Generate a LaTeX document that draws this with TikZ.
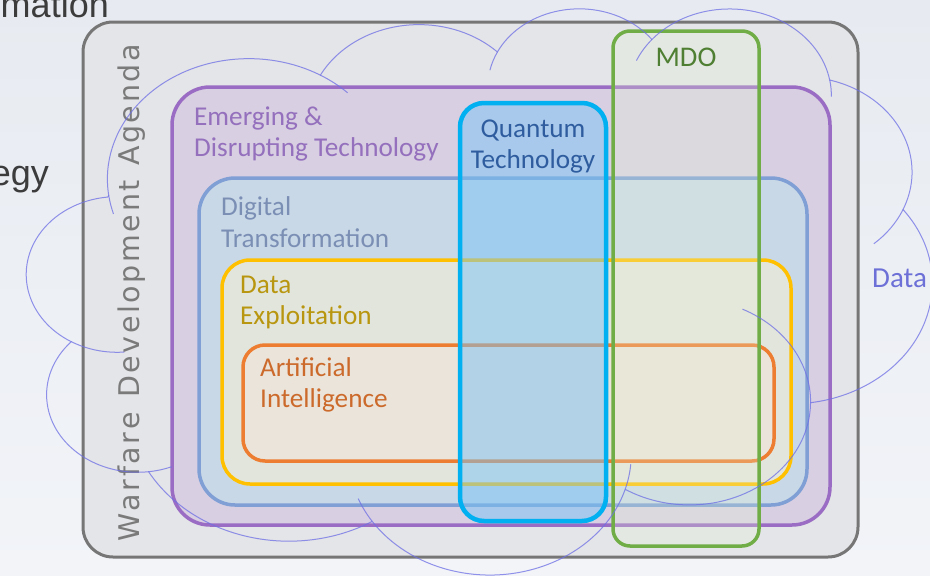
\documentclass[tikz,border=0pt]{standalone}
\usepackage{fontspec}
\setmainfont{Carlito}
\newfontfamily\arialfont{Liberation Sans}
\newfontfamily\wdafont{DejaVu Sans}
\definecolor{bgTop}{HTML}{E7EBF1}
\definecolor{bgBot}{HTML}{F2F4F8}
\definecolor{cGray}{HTML}{767676}
\definecolor{fGray}{HTML}{E4E5E8}
\definecolor{cPurple}{HTML}{9A6CC3}
\definecolor{fPurple}{HTML}{D8CFE2}
\definecolor{cBlue}{HTML}{7F9FD5}
\definecolor{fBlue}{HTML}{C8D8E7}
\definecolor{cYellow}{HTML}{FFC000}
\definecolor{fYellow}{HTML}{E2E5DC}
\definecolor{cOrange}{HTML}{ED7D31}
\definecolor{fOrange}{HTML}{EBE4DA}
\definecolor{cCyan}{HTML}{00B0F0}
\definecolor{fCyan}{HTML}{7AC4F4}
\definecolor{cGreen}{HTML}{70AD47}
\definecolor{fGreen}{HTML}{E6F4D6}
\definecolor{cCloud}{HTML}{6E6FE4}
\definecolor{tEm}{HTML}{9470BD}
\definecolor{tDig}{HTML}{7B8FB5}
\definecolor{tDat}{HTML}{B8960F}
\definecolor{tAI}{HTML}{CC6A2C}
\definecolor{tQt}{HTML}{2E5C9E}
\definecolor{tMdo}{HTML}{4F7F32}
\definecolor{tData}{HTML}{6D70D6}
\definecolor{tWda}{HTML}{7A7A7A}
\definecolor{tDark}{HTML}{3C3C3C}
\newcommand\lsp{\kern2.6pt\relax}
\begin{document}
\begin{tikzpicture}[x=1pt,y=-1pt,
  boxbase/.style={draw, inner sep=0pt, outer sep=0pt},
  lbl/.style={inner sep=0pt, font=\fontsize{27.2}{32}\selectfont},
  cloudline/.style={draw=cCloud, line width=1pt, draw opacity=0.75}]
\useasboundingbox (0,0) rectangle (930,576);
\shade[top color=bgTop, bottom color=bgBot] (0,0) rectangle (930,576);

% boxes
\node[boxbase, draw=cGray, fill=fGray, line width=3pt, rounded corners=30pt,
  minimum width=775pt, minimum height=535pt] (wdabox) at (470.5,289.5) {};
\node[boxbase, draw=cPurple, fill=fPurple, line width=3.5pt, rounded corners=38pt,
  minimum width=658pt, minimum height=438pt] (edtbox) at (501,306) {};
\node[boxbase, draw=cBlue, fill=fBlue, line width=3.5pt, rounded corners=36pt,
  minimum width=608pt, minimum height=327pt] (dtbox) at (503,341.5) {};
\node[boxbase, draw=cYellow, fill=fYellow, line width=3.5pt, rounded corners=28pt,
  minimum width=569pt, minimum height=224pt] (debox) at (506.5,372) {};
\node[boxbase, draw=cOrange, fill=fOrange, line width=3.5pt, rounded corners=22pt,
  minimum width=531pt, minimum height=116pt] (aibox) at (508.5,403) {};
\node[boxbase, draw=cCyan, fill=fCyan, fill opacity=0.5, draw opacity=1, line width=4.5pt, rounded corners=24pt,
  minimum width=146pt, minimum height=418pt] (qtbox) at (533,312) {};
\node[boxbase, draw=cGreen, fill=fGreen, fill opacity=0.25, draw opacity=1, line width=3.5pt, rounded corners=17pt,
  minimum width=146pt, minimum height=515pt] (mdobox) at (686,288.5) {};

% labels
\node[lbl, text=tEm, anchor=base west] (em1) at (194,125) {Emerging \&};
\node[lbl, text=tEm, anchor=base west] (em2) at (194,156) {Disrupting Technology};
\node[lbl, text=tDig, anchor=base west] (dt1) at (221,215) {Digital};
\node[lbl, text=tDig, anchor=base west] (dt2) at (221,247) {Transformation};
\node[lbl, text=tDat, anchor=base west] (de1) at (240,293) {Data};
\node[lbl, text=tDat, anchor=base west] (de2) at (240,324) {Exploitation};
\node[lbl, text=tAI, anchor=base west] (ai1) at (260,376) {Artificial};
\node[lbl, text=tAI, anchor=base west] (ai2) at (260,407) {Intelligence};
\node[lbl, text=tQt, anchor=base] (qt1) at (533,137) {Quantum};
\node[lbl, text=tQt, anchor=base] (qt2) at (533,168) {Technology};
\node[lbl, text=tMdo, anchor=base, font=\fontsize{28.5}{32}\selectfont] (mdo) at (686,66) {MDO};
\node[lbl, text=tData, anchor=base west, font=\fontsize{29}{34}\selectfont] (data) at (872,287) {Data};
\node[inner sep=0pt, text=tDark, anchor=base east, font=\arialfont\fontsize{36}{40}\selectfont] (mation) at (109,17) {mation};
\node[inner sep=0pt, text=tDark, anchor=base east, font=\arialfont\fontsize{36}{40}\selectfont] (egy) at (49,185) {egy};
\node[inner sep=0pt, text=tWda, anchor=base, rotate=90, font=\wdafont\fontsize{28.5}{30}\selectfont] (wda) at (139.5,293)
  {W\lsp a\lsp r\lsp f\lsp a\lsp r\lsp e\lsp\ \lsp D\lsp e\lsp v\lsp e\lsp l\lsp o\lsp p\lsp m\lsp e\lsp n\lsp t\lsp\ \lsp A\lsp g\lsp e\lsp n\lsp d\lsp a};

% cloud lobe centres
\coordinate (c1) at (248.89,179.03);
\coordinate (c3) at (579.28,86.70);
\coordinate (c4) at (729.6,95.32);
\coordinate (c5) at (800.4,171.94);
\coordinate (c7) at (689.4,401.8);
\coordinate (c8) at (489.8,454.3);
\coordinate (c10) at (137.9,394.7);
\coordinate (c11) at (117.2,274.4);
\coordinate (cs) at (108.70,195.28);

% cloud outline
\draw[cloudline] (cs)
 arc[start angle=172.25, end angle=300.36, x radius=141.47, y radius=120.41]
 arc[start angle=-152.02, end angle=-45.45, x radius=111.72, y radius=95.21]
 arc[start angle=-153.49, end angle=-37.33, x radius=91.44, y radius=77.89]
 arc[start angle=-139.72, end angle=-10.22, x radius=101.75, y radius=86.41]
 arc[start angle=-74.77, end angle=23.21, x radius=111.72, y radius=95.29]
 arc[start angle=-37.52, end angle=81.86, x radius=141.93, y radius=120.80]
 arc[start angle=0.46, end angle=121.98, x radius=121.19, y radius=103.07]
 arc[start angle=16.84, end angle=146.22, x radius=141.45, y radius=120.73]
 arc[start angle=58.98, end angle=150.19, x radius=161.73, y radius=138.13]
 arc[start angle=83.31, end angle=223.11, x radius=91.34, y radius=77.54]
 arc[start angle=120.35, end angle=264.11, x radius=91.02, y radius=77.89]
 -- cycle;

% cloud inner arcs
\draw[cloudline] (c11) ++(85.54:91.02 and 77.89) arc[start angle=85.54, end angle=120.35, x radius=91.02, y radius=77.89];
\draw[cloudline] (c10) ++(68.23:91.34 and 77.54) arc[start angle=68.23, end angle=83.31, x radius=91.34, y radius=77.54];
\draw[cloudline] (c8) ++(146.22:141.45 and 120.73) arc[start angle=146.22, end angle=158.47, x radius=141.45, y radius=120.73];
\draw[cloudline] (c8) ++(4.73:141.45 and 120.73) arc[start angle=4.73, end angle=16.84, x radius=141.45, y radius=120.73];
\draw[cloudline] (c7) ++(-64.03:121.19 and 103.07) arc[start angle=-64.03, end angle=0.46, x radius=121.19, y radius=103.07];
\draw[cloudline] (c5) ++(23.21:111.72 and 95.29) arc[start angle=23.21, end angle=48.9, x radius=111.72, y radius=95.29];
\draw[cloudline] (c4) ++(-10.22:101.75 and 86.41) arc[start angle=-10.22, end angle=0.83, x radius=101.75, y radius=86.41];
\draw[cloudline] (c4) ++(-156.30:101.75 and 86.41) arc[start angle=-156.30, end angle=-139.72, x radius=101.75, y radius=86.41];
\draw[cloudline] (c3) ++(-167.72:91.44 and 77.89) arc[start angle=-167.72, end angle=-153.49, x radius=91.44, y radius=77.89];
\draw[cloudline] (c1) ++(-59.64:141.47 and 120.41) arc[start angle=-59.64, end angle=-45.74, x radius=141.47, y radius=120.41];
\draw[cloudline] (c1) ++(163.19:141.47 and 120.41) arc[start angle=163.19, end angle=172.25, x radius=141.47, y radius=120.41];
\end{tikzpicture}
\end{document}
